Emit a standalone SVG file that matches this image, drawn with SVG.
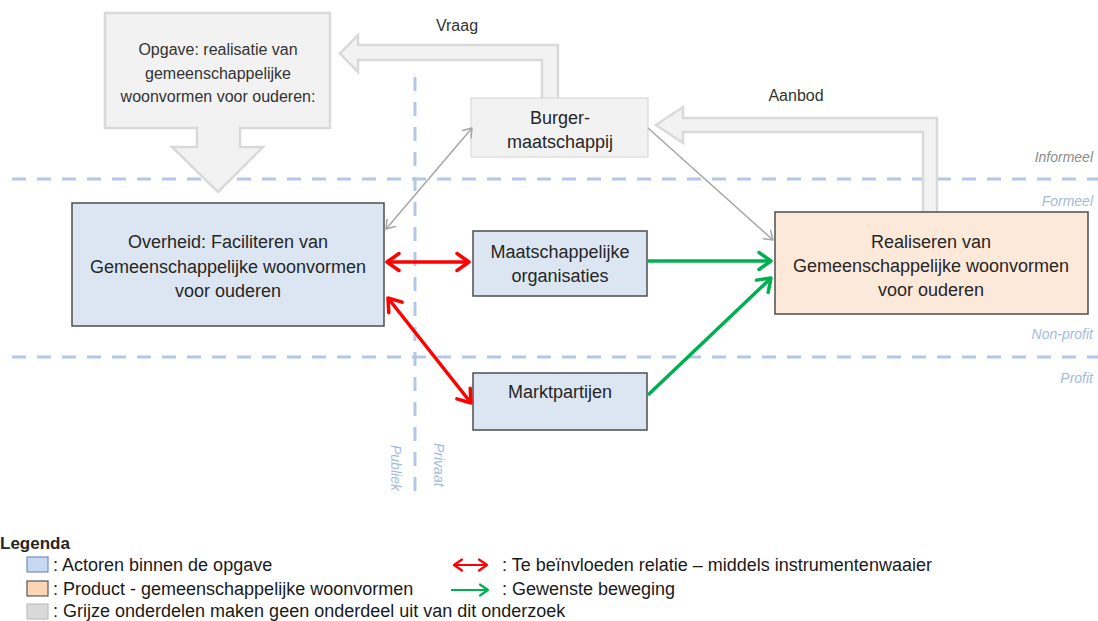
<svg xmlns="http://www.w3.org/2000/svg" width="1098" height="621" viewBox="0 0 1098 621">
  <style>
    .t { font-family: "Liberation Sans", Arial, sans-serif; fill: #262626; }
    .node { font-size: 18px; text-anchor: middle; }
    .grey-t { font-size: 16px; text-anchor: middle; fill: #333; }
    .side { font-family: "Liberation Sans", Arial, sans-serif; font-size: 14px; font-style: italic; }
    .blue-t { fill: #a3bbdd; }
    .leg { font-size: 18px; fill: #1a1a1a; }
    .actor { fill: #dce6f2; stroke: #4d4d4d; stroke-width: 1.5; }
    .product { fill: #fde9d9; stroke: #4d4d4d; stroke-width: 1.5; }
    .outside { fill: #f2f2f2; stroke: #d9d9d9; stroke-width: 2.5; }
    .guide { stroke: #b4c7e7; stroke-width: 3; stroke-dasharray: 14 11; fill: none; }
    .red { stroke: #ff0000; stroke-width: 3.5; fill: none; }
    .green { stroke: #00b050; stroke-width: 3.5; fill: none; }
    .grey { stroke: #a6a6a6; stroke-width: 1.5; fill: none; }
  </style>
  <defs>
    <marker id="headRed" markerUnits="userSpaceOnUse" viewBox="-16 -12 20 24" refX="0" refY="0" markerWidth="20" markerHeight="24" orient="auto-start-reverse" overflow="visible">
      <path d="M-12,-8.5 L0,0 L-12,8.5" fill="none" stroke="#ff0000" stroke-width="3.5" stroke-linecap="round" stroke-linejoin="round"/>
    </marker>
    <marker id="headGreen" markerUnits="userSpaceOnUse" viewBox="-16 -12 20 24" refX="0" refY="0" markerWidth="20" markerHeight="24" orient="auto" overflow="visible">
      <path d="M-12,-8.5 L0,0 L-12,8.5" fill="none" stroke="#00b050" stroke-width="3.5" stroke-linecap="round" stroke-linejoin="round"/>
    </marker>
    <marker id="headGrey" markerUnits="userSpaceOnUse" viewBox="-12 -8 14 16" refX="0" refY="0" markerWidth="14" markerHeight="16" orient="auto-start-reverse" overflow="visible">
      <path d="M-8,-5.5 L0,0 L-8,5.5" fill="none" stroke="#a6a6a6" stroke-width="1.5" stroke-linecap="round" stroke-linejoin="round"/>
    </marker>
    <!-- smaller heads for the legend samples -->
    <marker id="keyRed" markerUnits="userSpaceOnUse" viewBox="-12 -8 14 16" refX="0" refY="0" markerWidth="14" markerHeight="16" orient="auto-start-reverse" overflow="visible">
      <path d="M-8,-5.5 L0,0 L-8,5.5" fill="none" stroke="#ff0000" stroke-width="2.2" stroke-linecap="round" stroke-linejoin="round"/>
    </marker>
    <marker id="keyGreen" markerUnits="userSpaceOnUse" viewBox="-12 -8 14 16" refX="0" refY="0" markerWidth="14" markerHeight="16" orient="auto" overflow="visible">
      <path d="M-8,-5.5 L0,0 L-8,5.5" fill="none" stroke="#00b050" stroke-width="2.2" stroke-linecap="round" stroke-linejoin="round"/>
    </marker>
  </defs>

  <rect width="1098" height="621" fill="#ffffff"/>

  <!-- domain boundaries -->
  <g id="guides">
    <line class="guide" x1="12" y1="179" x2="1098" y2="179"/>
    <line class="guide" x1="12" y1="357" x2="1098" y2="357"/>
    <line class="guide" x1="415" y1="77" x2="415" y2="497"/>
    <text class="side" x="1093" y="162" text-anchor="end" fill="#8c8c8c">Informeel</text>
    <text class="side blue-t" x="1093" y="206" text-anchor="end">Formeel</text>
    <text class="side blue-t" x="1093" y="339" text-anchor="end">Non-profit</text>
    <text class="side blue-t" x="1093" y="383" text-anchor="end">Profit</text>
    <text class="side blue-t" transform="translate(391,445) rotate(90)">Publiek</text>
    <text class="side blue-t" transform="translate(434,443) rotate(90)">Privaat</text>
  </g>

  <!-- demand / supply flows -->
  <g id="flow-vraag">
    <path class="outside" d="M558,100 V45 H358 V35 L340,53.5 L358,72 V60 H542 V100"/>
    <text class="t grey-t" x="457" y="31">Vraag</text>
  </g>
  <g id="flow-aanbod">
    <path class="outside" d="M937,212 V118 H683 V107 L656,125 L683,143 V132 H923 V212"/>
    <text class="t grey-t" x="796" y="101">Aanbod</text>
  </g>

  <g id="opgave">
    <path class="outside" d="M105,13 H330 V128 H240 V147 H263 L218,192 L172,147 H197 V128 H105 Z"/>
    <text class="t grey-t" x="218" y="55">Opgave: realisatie van</text>
    <text class="t grey-t" x="218" y="79">gemeenschappelijke</text>
    <text class="t grey-t" x="218" y="102">woonvormen voor ouderen:</text>
  </g>

  <g id="burgermaatschappij">
    <rect x="471" y="98" width="177" height="59" fill="#f2f2f2" stroke="#d9d9d9" stroke-width="1.2"/>
    <text class="t node" x="560" y="124">Burger-</text>
    <text class="t node" x="560" y="148">maatschappij</text>
  </g>

  <g id="overheid">
    <rect class="actor" x="72" y="203" width="312" height="123"/>
    <text class="t node" x="228" y="248">Overheid: Faciliteren van</text>
    <text class="t node" x="228" y="273">Gemeenschappelijke woonvormen</text>
    <text class="t node" x="228" y="297">voor ouderen</text>
  </g>

  <g id="maatschappelijke-organisaties">
    <rect class="actor" x="473" y="231" width="174" height="65"/>
    <text class="t node" x="560" y="258">Maatschappelijke</text>
    <text class="t node" x="560" y="282">organisaties</text>
  </g>

  <g id="marktpartijen">
    <rect class="actor" x="473" y="373" width="174" height="57"/>
    <text class="t node" x="560" y="398">Marktpartijen</text>
  </g>

  <g id="realiseren">
    <rect class="product" x="775" y="212" width="313" height="102"/>
    <text class="t node" x="931" y="248">Realiseren van</text>
    <text class="t node" x="931" y="272">Gemeenschappelijke woonvormen</text>
    <text class="t node" x="931" y="296">voor ouderen</text>
  </g>

  <!-- connectors -->
  <g id="connectors">
    <line class="grey" x1="386" y1="229" x2="472" y2="128" marker-start="url(#headGrey)" marker-end="url(#headGrey)"/>
    <line class="grey" x1="648" y1="128" x2="773" y2="240" marker-end="url(#headGrey)"/>
    <line class="red" x1="387" y1="262" x2="469" y2="262" marker-start="url(#headRed)" marker-end="url(#headRed)"/>
    <line class="red" x1="388" y1="298" x2="471" y2="403" marker-start="url(#headRed)" marker-end="url(#headRed)"/>
    <line class="green" x1="648" y1="261" x2="771" y2="261" marker-end="url(#headGreen)"/>
    <line class="green" x1="648" y1="395" x2="771" y2="278" marker-end="url(#headGreen)"/>
  </g>

  <!-- legend -->
  <g id="legend">
    <text class="t" x="0" y="549" font-size="17" font-weight="bold" fill="#1a1a1a">Legenda</text>
    <rect x="27" y="557" width="21" height="15" fill="#c6d9f1" stroke="#6f8fbf" stroke-width="1.2"/>
    <text class="t leg" x="53" y="571">: Actoren binnen de opgave</text>
    <rect x="27" y="581" width="21" height="15" fill="#fcd5b4" stroke="#595959" stroke-width="1.2"/>
    <text class="t leg" x="53" y="595">: Product - gemeenschappelijke woonvormen</text>
    <rect x="27" y="604" width="21" height="15" fill="#d9d9d9" stroke="#c0c0c0" stroke-width="1.2"/>
    <text class="t leg" x="53" y="617">: Grijze onderdelen maken geen onderdeel uit van dit onderzoek</text>
    <line x1="454" y1="565" x2="487" y2="565" stroke="#ff0000" stroke-width="2.2" marker-start="url(#keyRed)" marker-end="url(#keyRed)"/>
    <text class="t leg" x="502" y="571">: Te beïnvloeden relatie – middels instrumentenwaaier</text>
    <line x1="451" y1="590" x2="488" y2="590" stroke="#00b050" stroke-width="2.2" marker-end="url(#keyGreen)"/>
    <text class="t leg" x="502" y="595">: Gewenste beweging</text>
  </g>
</svg>
